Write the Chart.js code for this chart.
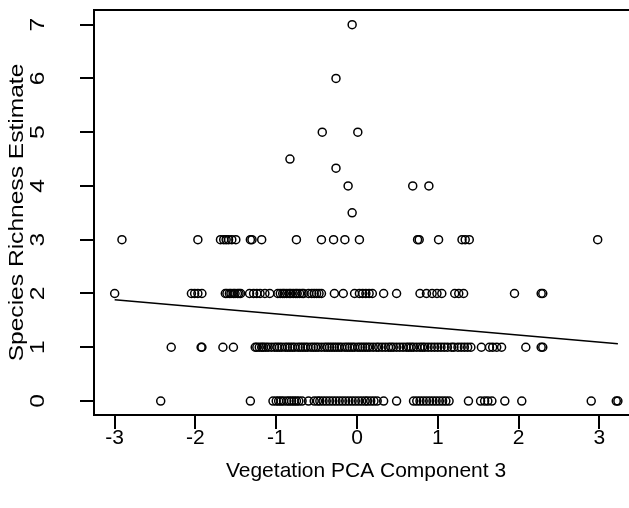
<!DOCTYPE html>
<html>
<head>
<meta charset="utf-8">
<script src="https://cdn.jsdelivr.net/npm/chart.js@4.4.0/dist/chart.umd.min.js"></script>
<style>
html,body{margin:0;padding:0;background:#fff;overflow:hidden;}
#wrap{width:629px;height:508px;overflow:hidden;position:relative;}
#c{position:absolute;left:0;top:0;}
</style>
</head>
<body>
<div id="wrap"><canvas id="c" width="660" height="508"></canvas></div>
<script>
// ---- data ----
const xTicks = [-3, -2, -1, 0, 1, 2, 3];
const xTickLabels = ['-3', '-2', '-1', '0', '1', '2', '3'];
const yTicks = [0, 1, 2, 3, 4, 5, 6, 7];
const yTickLabels = ['0', '1', '2', '3', '4', '5', '6', '7'];
const xTitle = 'Vegetation PCA Component 3';
const yTitle = 'Species Richness Estimate';

// x values of points with richness 0
const row0X = [-2.43, -1.32,
  -1.04, -1.00, -0.97, -0.94, -0.91, -0.87, -0.84, -0.81, -0.78, -0.75, -0.72, -0.68,
  -0.60, -0.53, -0.49, -0.46, -0.42, -0.38, -0.34, -0.30, -0.26, -0.22, -0.18, -0.14,
  -0.10, -0.06, -0.02, 0.02, 0.06, 0.10, 0.13, 0.17, 0.21, 0.25, 0.33, 0.49,
  0.70, 0.74, 0.78, 0.82, 0.86, 0.90, 0.94, 0.98, 1.02, 1.06, 1.10, 1.14,
  1.38, 1.53, 1.58, 1.62, 1.67, 1.83, 2.04, 2.90, 3.21, 3.23];
// x values of points with richness 1
const row1X = [-2.30, -1.93, -1.92, -1.66, -1.53,
  -1.26, -1.24, -1.21, -1.18, -1.16, -1.13, -1.10, -1.06, -1.02, -0.99, -0.96, -0.93,
  -0.89, -0.86, -0.83, -0.80, -0.77, -0.73, -0.70, -0.67, -0.64, -0.61, -0.57, -0.54,
  -0.51, -0.48, -0.44, -0.40, -0.37, -0.34, -0.31, -0.28, -0.25, -0.22, -0.19, -0.15,
  -0.12, -0.09, -0.06, -0.03, 0.01, 0.04, 0.07, 0.10, 0.13, 0.16, 0.20, 0.24, 0.27,
  0.31, 0.35, 0.39, 0.42, 0.45, 0.49, 0.53, 0.57, 0.61, 0.64, 0.67, 0.70, 0.74, 0.78,
  0.81, 0.84, 0.88, 0.92, 0.96, 1.00, 1.04, 1.08, 1.12, 1.17, 1.20, 1.25, 1.29, 1.33,
  1.37, 1.41, 1.54, 1.64, 1.68, 1.73, 1.79, 2.09, 2.28, 2.30];
// x values of points with richness 2
const row2X = [-3.00, -2.05, -2.01, -1.97, -1.92,
  -1.63, -1.61, -1.58, -1.56, -1.53, -1.51, -1.48, -1.46, -1.44,
  -1.33, -1.28, -1.24, -1.20, -1.14, -1.08,
  -0.98, -0.95, -0.92, -0.90, -0.87, -0.84, -0.82, -0.79, -0.76, -0.74, -0.71, -0.68,
  -0.66, -0.60, -0.56, -0.53, -0.50, -0.47, -0.44,
  -0.28, -0.17, -0.03, 0.03, 0.07, 0.11, 0.15, 0.19, 0.33, 0.49,
  0.78, 0.86, 0.93, 0.99, 1.05, 1.21, 1.26, 1.32, 1.95, 2.28, 2.30];
// x values of points with richness 3
const row3X = [-2.91, -1.97, -1.69, -1.65, -1.62, -1.59, -1.55, -1.50,
  -1.32, -1.30, -1.18, -0.75, -0.44, -0.29, -0.15, 0.03,
  0.75, 0.77, 1.01, 1.30, 1.34, 1.39, 2.98];
// remaining (non-integer / high) points
const otherX = [-0.06, -0.26, -0.43, 0.01, -0.83, -0.26, -0.11, 0.69, 0.89, -0.06];
const otherY = [7, 6, 5, 5, 4.5, 4.33, 4, 4, 4, 3.5];

// linear fit shown on the plot
const fitIntercept = 1.49;
const fitSlope = -0.131;

// ---- build ----
const pts = [];
row0X.forEach(x => pts.push({x: x, y: 0}));
row1X.forEach(x => pts.push({x: x, y: 1}));
row2X.forEach(x => pts.push({x: x, y: 2}));
row3X.forEach(x => pts.push({x: x, y: 3}));
otherX.forEach((x, i) => pts.push({x: x, y: otherY[i]}));
const allX = pts.map(p => p.x);
const xMin = Math.min.apply(null, allX), xMax = Math.max.apply(null, allX);
const fitLine = [{x: xMin, y: fitIntercept + fitSlope * xMin}, {x: xMax, y: fitIntercept + fitSlope * xMax}];

const FONT = '"Liberation Sans", Arial, sans-serif';
const FS = 21;
const ROT_STRETCH = 1.17;

function drawText(ctx, txt, x, y, rotated) {
  ctx.save();
  ctx.translate(x, y);
  if (rotated) {
    ctx.rotate(-Math.PI / 2);
    ctx.scale(ROT_STRETCH, 1);
  }
  ctx.fillText(txt, 0, 0);
  ctx.restore();
}

const axesPlugin = {
  id: 'rAxes',
  afterDraw(chart) {
    const ctx = chart.ctx, a = chart.chartArea;
    const xs = chart.scales.x, ys = chart.scales.y;
    ctx.save();
    ctx.strokeStyle = '#000';
    ctx.lineWidth = 2;
    ctx.strokeRect(a.left, a.top, a.right - a.left, a.bottom - a.top);
    ctx.beginPath();
    xTicks.forEach(v => {
      const px = Math.round(xs.getPixelForValue(v));
      ctx.moveTo(px, a.bottom); ctx.lineTo(px, a.bottom + 14);
    });
    yTicks.forEach(v => {
      const py = Math.round(ys.getPixelForValue(v));
      ctx.moveTo(a.left, py); ctx.lineTo(a.left - 14, py);
    });
    ctx.stroke();
    ctx.fillStyle = '#000';
    ctx.font = FS + 'px ' + FONT;
    ctx.textAlign = 'center';
    ctx.textBaseline = 'middle';
    xTicks.forEach((v, i) => drawText(ctx, xTickLabels[i], xs.getPixelForValue(v), a.bottom + 23, false));
    yTicks.forEach((v, i) => drawText(ctx, yTickLabels[i], a.left - 56, ys.getPixelForValue(v), true));
    drawText(ctx, xTitle, (a.left + a.right) / 2, 471, false);
    drawText(ctx, yTitle, 17, (a.top + a.bottom) / 2, true);
    ctx.restore();
  }
};

new Chart(document.getElementById('c'), {
  type: 'scatter',
  data: {
    datasets: [
      {
        data: pts,
        showLine: false,
        pointStyle: 'circle',
        pointRadius: 4,
        pointHoverRadius: 4,
        pointBorderWidth: 1.5,
        pointBackgroundColor: 'rgba(0,0,0,0)',
        pointBorderColor: '#000'
      },
      {
        type: 'line',
        data: fitLine,
        borderColor: '#000',
        borderWidth: 1.5,
        pointRadius: 0,
        fill: false
      }
    ]
  },
  options: {
    responsive: false,
    animation: false,
    devicePixelRatio: 1,
    layout: {padding: {left: 94, top: 10, right: 22, bottom: 93}},
    plugins: {legend: {display: false}, tooltip: {enabled: false}},
    scales: {
      x: {type: 'linear', display: false, min: -3.256, max: 3.479},
      y: {type: 'linear', display: false, min: -0.26, max: 7.273}
    }
  },
  plugins: [axesPlugin]
});
</script>
</body>
</html>
